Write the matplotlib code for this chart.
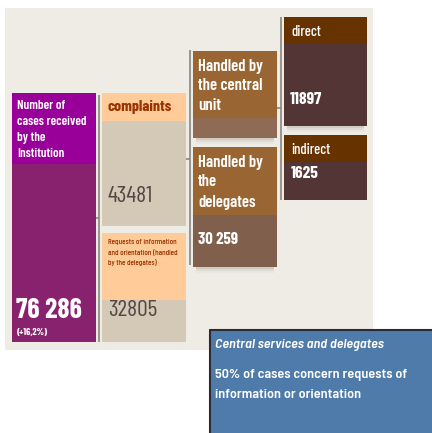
import matplotlib
matplotlib.use("Agg")
import matplotlib.pyplot as plt
from matplotlib.patches import Rectangle
from matplotlib import font_manager as fm

# ---- data ----
total_label = ["Number of", "cases received", "by the", "Institution"]
total_value = "76 286"
total_change = "(+16,2%)"
complaints_label = "complaints"
complaints_value = "43481"
requests_label = ["Requests of information", "and orientation (handled", "by the delegates)"]
requests_value = "32805"
central_label = ["Handled by", "the central", "unit"]
delegates_label = ["Handled by", "the", "delegates"]
delegates_value = "30 259"
direct_label = "direct"
direct_value = "11897"
indirect_label = "indirect"
indirect_value = "1625"
note_title = "Central services and delegates"
note_lines = ["50% of cases concern requests of", "information or orientation"]

_files = {f.fname.split("/")[-1]: f.fname for f in fm.fontManager.ttflist}


def font(files, fallback_family="Liberation Sans", weight="normal", style="normal"):
    for fn in files:
        if fn in _files:
            return fm.FontProperties(fname=_files[fn])
    return fm.FontProperties(family=[fallback_family, "DejaVu Sans"], weight=weight, style=style)


F_SEMI = font(["BarlowCondensed-SemiBold.ttf", "BarlowCondensed-Bold.ttf", "DejaVuSansCondensed-Bold.ttf"], weight="bold")
F_BOLD = font(["BarlowCondensed-Bold.ttf", "DejaVuSansCondensed-Bold.ttf"], weight="bold")
F_MED = font(["BarlowCondensed-Medium.ttf", "BarlowCondensed-Regular.ttf", "DejaVuSansCondensed.ttf"])
F_REG = font(["BarlowCondensed-Regular.ttf", "DejaVuSansCondensed.ttf"])
F_NB = font(["LiberationSansNarrow-Bold.ttf", "ArchivoNarrow-Bold.ttf", "BarlowSemiCondensed-SemiBold.ttf"], weight="bold")
F_NBI = font(["LiberationSansNarrow-BoldItalic.ttf", "ArchivoNarrow-BoldItalic.ttf", "BarlowSemiCondensed-SemiBoldItalic.ttf"],
             weight="bold", style="italic")

W, H = 432, 433
fig = plt.figure(figsize=(W / 100, H / 100), dpi=100)
ax = fig.add_axes([0, 0, 1, 1])
ax.set_xlim(0, W)
ax.set_ylim(H, 0)
ax.axis("off")


def box(x0, y0, x1, y1, color, z=1):
    ax.add_patch(Rectangle((x0, y0), x1 - x0, y1 - y0, facecolor=color,
                           edgecolor="none", zorder=z))


def shadow(x0, y0, x1, y1):
    for i, a in enumerate([0.10, 0.06, 0.03]):
        box(x0 + 3, y1, x1 - 3, y1 + 2 + 2 * i, (0.3, 0.25, 0.2, a), z=0.9)


def line(xs, ys, color="#8a8580", lw=1.2):
    ax.plot(xs, ys, color=color, lw=lw, zorder=1.5, solid_capstyle="butt")


def txt(x, y, s, fp, size, color="white"):
    p = fp.copy()
    p.set_size(size)
    ax.text(x, y, s, color=color, fontproperties=p, va="center", ha="left", zorder=3)


# background panel
box(5, 8, 373, 350, "#EFEBE5", z=0)

# total box
box(12, 93, 96, 342, "#88226F")
box(12, 93, 96, 164, "#990099")
for i, t in enumerate(total_label):
    txt(17, 106 + 16 * i, t, F_SEMI, 9.3)
txt(16, 311, total_value, F_BOLD, 20)
txt(17, 332, total_change, F_BOLD, 7)

# connector total -> complaints
line([99, 99], [95, 342])
line([96, 99], [218, 218])

# complaints box
box(102, 93, 186, 226, "#D4C9B6")
box(102, 93, 186, 121, "#FFCC99")
txt(108, 107, complaints_label, F_BOLD, 11.5, "#993300")
txt(108, 196, complaints_value, F_REG, 17, "#554646")

# requests box
box(102, 233, 186, 342, "#D4C9B6")
box(102, 233, 186, 300, "#FFCC99")
for i, t in enumerate(requests_label):
    txt(108, 242 + 10 * i, t, F_MED, 5.9, "#993300")
txt(108, 311, requests_value, F_REG, 17, "#554646")

# connector complaints -> handled
line([190, 190], [50, 265])
line([186, 190], [159, 159])

# central unit box
shadow(193, 51, 277, 138)
box(193, 51, 277, 138, "#8F6B55")
box(193, 51, 277, 118, "#996633")
for i, t in enumerate(central_label):
    txt(198, 66 + 20 * i, t, F_SEMI, 12)

# delegates box
shadow(193, 147, 277, 267)
box(193, 147, 277, 267, "#80604D")
box(193, 147, 277, 215, "#996633")
for i, t in enumerate(delegates_label):
    txt(198, 162 + 20 * i, t, F_SEMI, 12)
txt(198, 240, delegates_value, F_BOLD, 12)

# connector central -> direct/indirect
line([281, 281], [17, 200])
line([277, 281], [108, 108])

# direct box
shadow(284, 17, 367, 126)
box(284, 17, 367, 126, "#533535")
box(284, 17, 367, 44, "#663300")
txt(291, 32, direct_label, F_MED, 10.5)
txt(290, 99, direct_value, F_BOLD, 12.5)

# indirect box
box(284, 135, 367, 200, "#533535")
box(284, 135, 367, 162, "#663300")
txt(291, 150, indirect_label, F_MED, 10.5)
txt(291, 173, indirect_value, F_BOLD, 12.5)

# note box
box(209, 329, 433, 433, "#4F7BAB", z=2)
ax.plot([209.5, 209.5, 433], [433, 329.5, 329.5], color="#2A2A35", lw=1.5, zorder=2.5)
txt(215, 345, note_title, F_NBI, 10.2)
for i, t in enumerate(note_lines):
    txt(215, 375 + 20 * i, t, F_NB, 10.2)

fig.savefig("out.png", dpi=100)
